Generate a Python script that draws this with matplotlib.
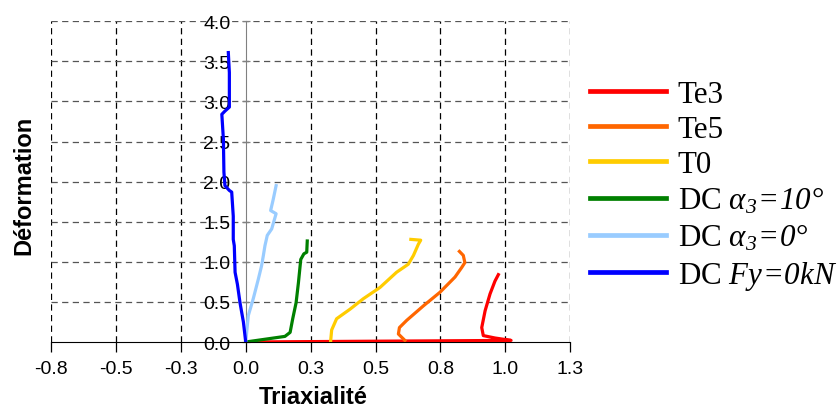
import matplotlib
matplotlib.use("Agg")
import matplotlib.pyplot as plt

plt.rcParams['font.family'] = ['Liberation Sans', 'DejaVu Sans']
plt.rcParams['mathtext.fontset'] = 'custom'
plt.rcParams['mathtext.rm'] = 'Liberation Serif:italic'
plt.rcParams['mathtext.it'] = 'Liberation Serif:italic'

# curves (x = triaxialite, y = deformation)
te3_x = [0.0, 0.50, 1.022, 0.96, 0.915, 0.909, 0.922, 0.941, 0.960, 0.973]
te3_y = [0.0, 0.01, 0.02, 0.05, 0.08, 0.18, 0.39, 0.60, 0.76, 0.84]

te5_x = [0.613, 0.588, 0.592, 0.620, 0.684, 0.748, 0.806, 0.832, 0.844, 0.838, 0.823]
te5_y = [0.02, 0.10, 0.18, 0.27, 0.45, 0.62, 0.81, 0.93, 0.99, 1.08, 1.13]

t0_x = [0.327, 0.331, 0.350, 0.402, 0.453, 0.517, 0.581, 0.626, 0.646, 0.665, 0.674, 0.636]
t0_y = [0.01, 0.15, 0.29, 0.41, 0.54, 0.68, 0.87, 0.97, 1.08, 1.22, 1.27, 1.28]

dc10_x = [0.0, 0.151, 0.171, 0.181, 0.194, 0.203, 0.212, 0.224, 0.235, 0.237]
dc10_y = [0.0, 0.07, 0.12, 0.29, 0.49, 0.74, 1.03, 1.10, 1.12, 1.26]

dc0_x = [0.0, 0.010, 0.029, 0.049, 0.061, 0.068, 0.074, 0.083, 0.100, 0.117, 0.096, 0.106, 0.117]
dc0_y = [0.0, 0.33, 0.54, 0.79, 0.95, 1.08, 1.20, 1.33, 1.41, 1.60, 1.64, 1.78, 1.95]

dcfy_x = [0.0, -0.009, -0.022, -0.032, -0.041, -0.044, -0.048, -0.048, -0.054, -0.063, -0.080,
          -0.084, -0.086, -0.092, -0.080, -0.063, -0.063, -0.067]
dcfy_y = [0.0, 0.25, 0.49, 0.72, 0.87, 1.20, 1.28, 1.57, 1.87, 1.89, 1.95,
          2.12, 2.53, 2.84, 2.88, 2.93, 3.36, 3.61]

labels = ['Te3', 'Te5', 'T0',
          r'DC $\alpha_3\!=\!10°$',
          r'DC $\alpha_3\!=\!0°$',
          r'DC $\mathit{Fy}\!=\!0\mathit{kN}$']
colors = ['#FF0000', '#FF6600', '#FFCC00', '#008000', '#99CCFF', '#0000FF']

xticks = [-0.75, -0.5, -0.25, 0.0, 0.25, 0.5, 0.75, 1.0, 1.25]
xtick_labels = ['-0.8', '-0.5', '-0.3', '0.0', '0.3', '0.5', '0.8', '1.0', '1.3']
yticks = [0.0, 0.5, 1.0, 1.5, 2.0, 2.5, 3.0, 3.5, 4.0]

fig = plt.figure(figsize=(8.4, 4.1), dpi=100)
ax = fig.add_axes([0.0607, 0.1634, 0.6182, 0.7822])

series = [(te3_x, te3_y), (te5_x, te5_y), (t0_x, t0_y),
          (dc10_x, dc10_y), (dc0_x, dc0_y), (dcfy_x, dcfy_y)]
for (xs, ys), c, lab in zip(series, colors, labels):
    ax.plot(xs, ys, color=c, lw=2.3, label=lab, solid_joinstyle='round', zorder=3)

ax.set_xlim(-0.75, 1.25)
ax.set_ylim(0, 4.0)
ax.set_xticks(xticks)
ax.set_xticklabels(xtick_labels)
ax.set_yticks(yticks)
ax.set_yticklabels(['%.1f' % v for v in yticks])

for x in xticks:
    if x != 0:
        ax.axvline(x, color='black', lw=0.9, ls=(0, (5, 3.5)), zorder=1)
for y in yticks[1:]:
    ax.axhline(y, color='#555555', lw=0.9, ls=(0, (5, 3.5)), zorder=1)

ax.spines['top'].set_visible(False)
ax.spines['right'].set_visible(False)
ax.spines['left'].set_position(('data', 0))
ax.spines['left'].set_color('#808080')
ax.spines['left'].set_zorder(2)
ax.spines['bottom'].set_color('black')

ax.tick_params(axis='x', direction='out', length=7, width=0.9, pad=6, labelsize=14, colors='black')
ax.tick_params(axis='y', direction='inout', length=6, width=0.9, pad=8, labelsize=14,
               color='#808080', labelcolor='black')

ax.set_xlabel('Triaxialité', fontsize=17, fontweight='bold')
ax.set_ylabel('Déformation', fontsize=17, fontweight='bold')
ax.xaxis.set_label_coords(0.504, -0.135)
ax.yaxis.set_label_coords(-0.03, 0.49)

leg = fig.legend(loc='center left', bbox_to_anchor=(0.6875, 0.545), frameon=False,
                 prop={'family': 'Liberation Serif', 'size': 22.3},
                 handlelength=2.45, handletextpad=0.38, labelspacing=0.2, borderaxespad=0)
for h in leg.get_lines():
    h.set_linewidth(3.4)

fig.savefig('out.png', dpi=100)
